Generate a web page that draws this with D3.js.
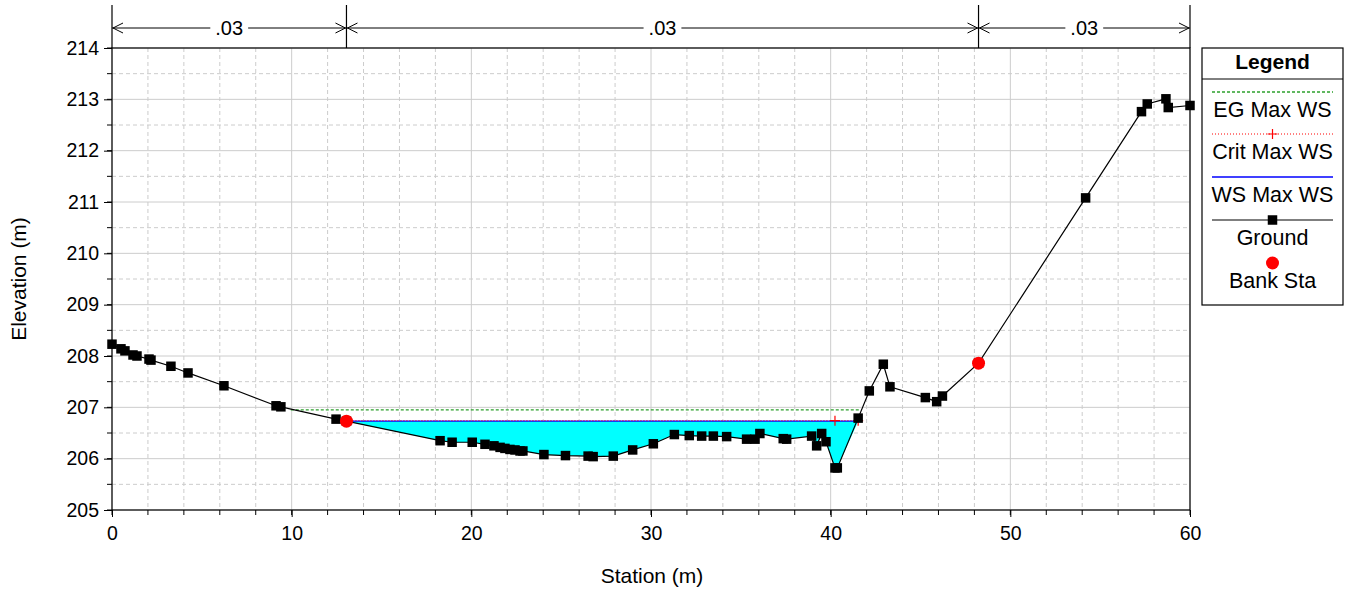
<!DOCTYPE html>
<html><head><meta charset="utf-8">
<script src="https://cdn.jsdelivr.net/npm/d3@7"></script>
<style>body{margin:0;background:#fff;font-family:"Liberation Sans",Arial,sans-serif;}</style>
</head><body>
<svg id="c" width="1349" height="589" font-family="Liberation Sans, Arial, sans-serif"></svg>
<script>
const groundSta = [0,0.5,0.72,1.17,1.39,2.06,2.17,3.28,4.23,6.23,9.13,9.4,12.47,13.05,18.26,18.93,20.05,20.76,21.26,21.6,21.87,22.15,22.43,22.71,22.87,24.04,25.24,26.5,26.78,27.9,28.98,30.13,31.3,32.13,32.82,33.47,34.21,35.32,35.79,36.06,37.36,37.55,38.94,39.22,39.5,39.74,40.24,40.37,41.53,42.15,42.93,43.3,45.27,45.9,46.22,48.23,54.19,57.3,57.62,58.66,58.79,60.0];
const groundElev = [208.23,208.14,208.10,208.02,208.0,207.94,207.92,207.80,207.67,207.42,207.03,207.01,206.77,206.73,206.35,206.32,206.32,206.28,206.25,206.22,206.20,206.18,206.17,206.15,206.15,206.08,206.06,206.05,206.04,206.05,206.17,206.29,206.47,206.45,206.44,206.44,206.43,206.38,206.38,206.49,206.39,206.38,206.44,206.25,206.49,206.33,205.82,205.82,206.79,207.32,207.84,207.40,207.19,207.11,207.22,207.86,211.08,212.76,212.91,213.01,212.84,212.88];
const bankSta = [13.05, 48.23];
const bankElev = [206.73, 207.86];
const wsElev = 206.73;
const wsRange = [13.05, 41.53];
const egElev = 206.95;
const egRange = [9.95, 41.67];
const critElev = 206.74;
const critSta = [40.24, 41.53];
const nSta = [0, 13.05, 48.23, 60];
const nVal = [".03", ".03", ".03"];
const xTicks = [0,10,20,30,40,50,60];
const yTicks = [205,206,207,208,209,210,211,212,213,214];
const legendItems = ["EG Max WS","Crit Max WS","WS Max WS","Ground","Bank Sta"];

const svg = d3.select("#c");
const L=112, R=1190, T=48, B=510;
const x = d3.scaleLinear().domain([0,60]).range([L,R]);
const y = d3.scaleLinear().domain([205,214]).range([B,T]);
const ground = groundSta.map((s,i)=>[s,groundElev[i]]);

// grid
const g = svg.append("g");
d3.range(0,60.01,2).forEach(v=>{
  const major = Math.abs(v%10)<1e-6;
  g.append("line").attr("x1",x(v)).attr("x2",x(v)).attr("y1",T).attr("y2",B)
   .attr("stroke","#cccccc").attr("stroke-width",1)
   .attr("stroke-dasharray",major?null:"4,3");
});
d3.range(205,214.01,0.5).forEach(v=>{
  const major = Math.abs(v%1)<1e-6;
  g.append("line").attr("x1",L).attr("x2",R).attr("y1",y(v)).attr("y2",y(v))
   .attr("stroke","#cccccc").attr("stroke-width",1)
   .attr("stroke-dasharray",major?null:"4,3");
});

// water fill
const inside = ground.filter(p=>p[0]>wsRange[0] && p[0]<wsRange[1]);
const poly = [[wsRange[0],wsElev]].concat(inside).concat([[wsRange[1],wsElev]]);
const line = d3.line().x(d=>x(d[0])).y(d=>y(d[1]));
svg.append("path").attr("d",line(poly)+"Z").attr("fill","#00ffff").attr("stroke","none");

// EG
svg.append("line").attr("x1",x(egRange[0])).attr("x2",x(egRange[1])).attr("y1",y(egElev)).attr("y2",y(egElev))
  .attr("stroke","#2ca02c").attr("stroke-width",1.3).attr("stroke-dasharray","3,2");
// WS
svg.append("line").attr("x1",x(wsRange[0])).attr("x2",x(wsRange[1])).attr("y1",y(wsElev)).attr("y2",y(wsElev))
  .attr("stroke","#0000ff").attr("stroke-width",1.3);
// Crit
svg.append("line").attr("x1",x(wsRange[0])).attr("x2",x(wsRange[1])).attr("y1",y(critElev)).attr("y2",y(critElev))
  .attr("stroke","#ff0000").attr("stroke-width",1).attr("stroke-dasharray","1,2");
critSta.forEach(s=>{
  svg.append("path").attr("d",`M${x(s)-5},${y(critElev)}h10M${x(s)},${y(critElev)-5}v10`).attr("stroke","#ff0000").attr("stroke-width",1.2);
});

// ground line
svg.append("path").attr("d",line(ground)).attr("fill","none").attr("stroke","#000").attr("stroke-width",1.2);
svg.append("g").selectAll("rect").data(ground).join("rect")
  .attr("x",d=>x(d[0])-4.75).attr("y",d=>y(d[1])-4.75).attr("width",9.5).attr("height",9.5).attr("fill","#000");

// bank
svg.append("g").selectAll("circle").data(bankSta).join("circle")
  .attr("cx",d=>x(d)).attr("cy",(d,i)=>y(bankElev[i])).attr("r",6.5).attr("fill","#ff0000");

// frame
svg.append("rect").attr("x",L).attr("y",T).attr("width",R-L).attr("height",B-T).attr("fill","none").attr("stroke","#000").attr("stroke-width",1.2);

// axes
const xa = svg.append("g").attr("transform",`translate(0,${B})`)
  .call(d3.axisBottom(x).tickValues(xTicks).tickSize(7).tickPadding(6).tickFormat(d3.format("d")));
const ya = svg.append("g").attr("transform",`translate(${L},0)`)
  .call(d3.axisLeft(y).tickValues(yTicks).tickSize(8).tickPadding(5).tickFormat(d3.format("d")));
[xa,ya].forEach(a=>{a.select(".domain").remove();a.selectAll("text").attr("font-size",19.5).attr("font-family","Liberation Sans, Arial").attr("fill","#000");a.selectAll("line").attr("stroke","#000");});
xa.selectAll("text").attr("dy","0.85em");
// minor ticks
d3.range(0,60.01,2).forEach(v=>svg.append("line").attr("x1",x(v)).attr("x2",x(v)).attr("y1",B).attr("y2",B+5).attr("stroke","#000"));
d3.range(205,214.01,0.5).forEach(v=>svg.append("line").attr("x1",L-5).attr("x2",L).attr("y1",y(v)).attr("y2",y(v)).attr("stroke","#000"));

svg.append("text").attr("x",652).attr("y",583).attr("text-anchor","middle").attr("font-size",21).text("Station (m)");
svg.append("text").attr("transform",`translate(26,279) rotate(-90)`).attr("text-anchor","middle").attr("font-size",21).text("Elevation (m)");

// Manning's n bars
const ny = 28;
nSta.forEach(s=>svg.append("line").attr("x1",x(s)).attr("x2",x(s)).attr("y1",5).attr("y2",T).attr("stroke","#000").attr("stroke-width",1.2));
nVal.forEach((v,i)=>{
  const a=x(nSta[i]), b=x(nSta[i+1]), m=(a+b)/2;
  const t = svg.append("text").attr("x",m).attr("y",ny+7).attr("text-anchor","middle").attr("font-size",20).text(v);
  const tw = t.node().getComputedTextLength()+10;
  svg.append("line").attr("x1",a).attr("x2",m-tw/2).attr("y1",ny).attr("y2",ny).attr("stroke","#000");
  svg.append("line").attr("x1",m+tw/2).attr("x2",b).attr("y1",ny).attr("y2",ny).attr("stroke","#000");
  svg.append("path").attr("d",`M${a+11},${ny-5}L${a+1},${ny}L${a+11},${ny+5}`).attr("fill","none").attr("stroke","#000");
  svg.append("path").attr("d",`M${b-11},${ny-5}L${b-1},${ny}L${b-11},${ny+5}`).attr("fill","none").attr("stroke","#000");
});

// legend
const lx=1202, lw=141, ly=48;
const lg=svg.append("g");
lg.append("rect").attr("x",lx).attr("y",ly).attr("width",lw).attr("height",257).attr("fill","#fff").attr("stroke","#000").attr("stroke-width",1.2);
lg.append("line").attr("x1",lx).attr("x2",lx+lw).attr("y1",79).attr("y2",79).attr("stroke","#000");
lg.append("text").attr("x",lx+lw/2).attr("y",69).attr("text-anchor","middle").attr("font-size",21).attr("font-weight","bold").text("Legend");
const lx1=1212, lx2=1333, cx=lx+lw/2;
const rows=[92,134,177,220,263];
lg.append("line").attr("x1",lx1).attr("x2",lx2).attr("y1",rows[0]).attr("y2",rows[0]).attr("stroke","#2ca02c").attr("stroke-width",1.3).attr("stroke-dasharray","3,2");
lg.append("line").attr("x1",lx1).attr("x2",lx2).attr("y1",rows[1]).attr("y2",rows[1]).attr("stroke","#ff0000").attr("stroke-dasharray","1,2");
lg.append("path").attr("d",`M${cx-5},${rows[1]}h10M${cx},${rows[1]-5}v10`).attr("stroke","#ff0000").attr("stroke-width",1.2);
lg.append("line").attr("x1",lx1).attr("x2",lx2).attr("y1",rows[2]).attr("y2",rows[2]).attr("stroke","#0000ff").attr("stroke-width",1.3);
lg.append("line").attr("x1",lx1).attr("x2",lx2).attr("y1",rows[3]).attr("y2",rows[3]).attr("stroke","#000").attr("stroke-width",1.2);
lg.append("rect").attr("x",cx-4.75).attr("y",rows[3]-4.75).attr("width",9.5).attr("height",9.5).attr("fill","#000");
lg.append("circle").attr("cx",cx).attr("cy",rows[4]).attr("r",6.5).attr("fill","#ff0000");
legendItems.forEach((t,i)=>lg.append("text").attr("x",cx).attr("y",rows[i]+25).attr("text-anchor","middle").attr("font-size",21.5).text(t));
</script>
</body></html>
